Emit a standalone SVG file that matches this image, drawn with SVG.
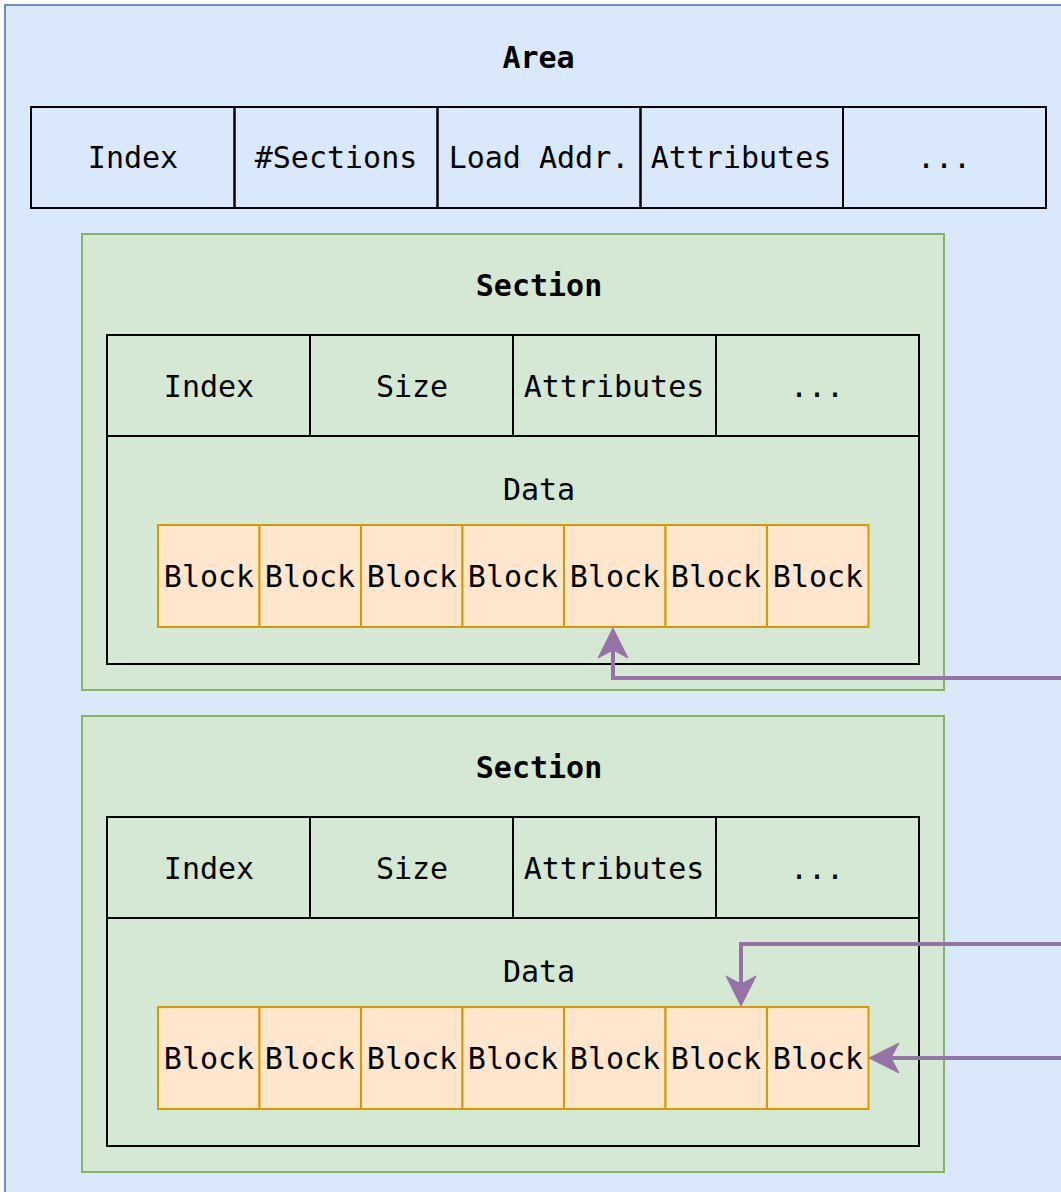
<svg xmlns="http://www.w3.org/2000/svg" width="1061" height="1192" viewBox="0 0 1061 1192">
<style>
.t{font-family:"DejaVu Sans Mono","Liberation Mono",monospace;font-size:30px;fill:#000;text-anchor:middle}
.b{font-weight:bold}
.cell{fill:none;stroke:#000;stroke-width:2}
.sec{fill:#d5e8d4;stroke:#82b366;stroke-width:2}
.blk{fill:#ffe6cc;stroke:#d79b00;stroke-width:2}
.conn{fill:none;stroke:#9673a6;stroke-width:4}
</style>
<defs>
<marker id="arr" markerUnits="userSpaceOnUse" markerWidth="34" markerHeight="36" viewBox="-2 -18 34 36" refX="8" refY="0" orient="auto">
<path d="M0,-15 L30,0 L0,15 L8,0 Z" fill="#9673a6" stroke="#9673a6" stroke-width="1"/>
</marker>
</defs>
<g id="area">
<rect x="5" y="5" width="1070" height="1200" fill="#dae8fc" stroke="#6c8ebf" stroke-width="2"/>
<text class="t b" x="538.5" y="68">Area</text>
</g>
<g id="area-header">
<rect class="cell" x="31" y="107" width="203.5" height="101"/>
<rect class="cell" x="234.5" y="107" width="203" height="101"/>
<rect class="cell" x="437.5" y="107" width="203" height="101"/>
<rect class="cell" x="640.5" y="107" width="202.5" height="101"/>
<rect class="cell" x="843" y="107" width="203" height="101"/>
<text class="t" x="133" y="168">Index</text>
<text class="t" x="336" y="168">#Sections</text>
<text class="t" x="539" y="168">Load Addr.</text>
<text class="t" x="741" y="168">Attributes</text>
<text class="t" x="944" y="168">...</text>
</g>
<g id="section1">
<rect class="sec" x="82" y="234" width="862" height="456"/>
<text class="t b" x="539" y="296">Section</text>
<rect class="cell" x="107" y="335" width="812" height="329"/>
<line class="cell" x1="107" y1="436" x2="919" y2="436"/>
<line class="cell" x1="310" y1="335" x2="310" y2="436"/>
<line class="cell" x1="513" y1="335" x2="513" y2="436"/>
<line class="cell" x1="716" y1="335" x2="716" y2="436"/>
<text class="t" x="209" y="397">Index</text>
<text class="t" x="412" y="397">Size</text>
<text class="t" x="614" y="397">Attributes</text>
<text class="t" x="817" y="397">...</text>
<text class="t" x="539" y="500">Data</text>
</g>
<g id="section1-blocks">
<rect class="blk" x="158" y="525" width="101.5" height="102"/>
<rect class="blk" x="259.5" y="525" width="101.5" height="102"/>
<rect class="blk" x="361" y="525" width="101.5" height="102"/>
<rect class="blk" x="462.5" y="525" width="101.5" height="102"/>
<rect class="blk" x="564" y="525" width="101.5" height="102"/>
<rect class="blk" x="665.5" y="525" width="101.5" height="102"/>
<rect class="blk" x="767" y="525" width="101.5" height="102"/>
<text class="t" x="209" y="587">Block</text>
<text class="t" x="310" y="587">Block</text>
<text class="t" x="412" y="587">Block</text>
<text class="t" x="513" y="587">Block</text>
<text class="t" x="615" y="587">Block</text>
<text class="t" x="716" y="587">Block</text>
<text class="t" x="818" y="587">Block</text>
</g>
<g id="section2">
<rect class="sec" x="82" y="716" width="862" height="456"/>
<text class="t b" x="539" y="778">Section</text>
<rect class="cell" x="107" y="817" width="812" height="329"/>
<line class="cell" x1="107" y1="918" x2="919" y2="918"/>
<line class="cell" x1="310" y1="817" x2="310" y2="918"/>
<line class="cell" x1="513" y1="817" x2="513" y2="918"/>
<line class="cell" x1="716" y1="817" x2="716" y2="918"/>
<text class="t" x="209" y="879">Index</text>
<text class="t" x="412" y="879">Size</text>
<text class="t" x="614" y="879">Attributes</text>
<text class="t" x="817" y="879">...</text>
<text class="t" x="539" y="982">Data</text>
</g>
<g id="section2-blocks">
<rect class="blk" x="158" y="1007" width="101.5" height="102"/>
<rect class="blk" x="259.5" y="1007" width="101.5" height="102"/>
<rect class="blk" x="361" y="1007" width="101.5" height="102"/>
<rect class="blk" x="462.5" y="1007" width="101.5" height="102"/>
<rect class="blk" x="564" y="1007" width="101.5" height="102"/>
<rect class="blk" x="665.5" y="1007" width="101.5" height="102"/>
<rect class="blk" x="767" y="1007" width="101.5" height="102"/>
<text class="t" x="209" y="1069">Block</text>
<text class="t" x="310" y="1069">Block</text>
<text class="t" x="412" y="1069">Block</text>
<text class="t" x="513" y="1069">Block</text>
<text class="t" x="615" y="1069">Block</text>
<text class="t" x="716" y="1069">Block</text>
<text class="t" x="818" y="1069">Block</text>
</g>
<g id="connectors">
<path class="conn" d="M1070,678 L613,678 L613,650" marker-end="url(#arr)"/>
<path class="conn" d="M1070,944 L741,944 L741,984" marker-end="url(#arr)"/>
<path class="conn" d="M1070,1058 L891,1058" marker-end="url(#arr)"/>
</g>
</svg>
